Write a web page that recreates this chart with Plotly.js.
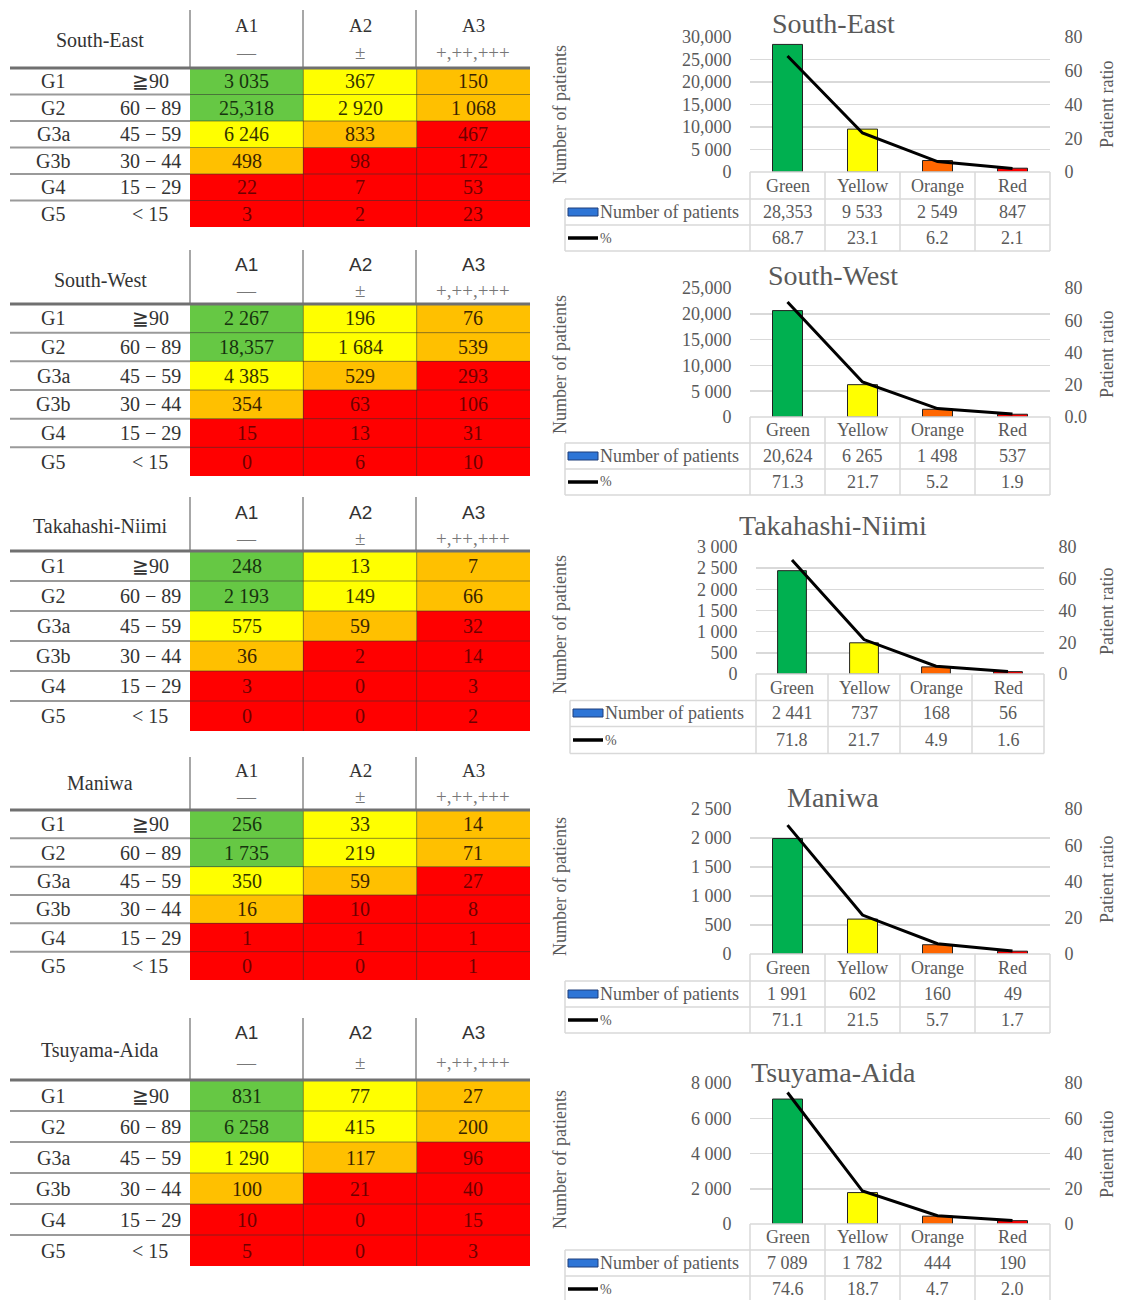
<!DOCTYPE html>
<html>
<head>
<meta charset="utf-8">
<script src="https://cdn.plot.ly/plotly-3.0.1.min.js"></script>
<style>html,body{margin:0;padding:0;background:#fff;}#chart{width:1121px;height:1300px;}</style>
</head>
<body>
<div id="chart"></div>
<script>
// ---------------- DATA ----------------
const regions = ['South-East', 'South-West', 'Takahashi-Niimi', 'Maniwa', 'Tsuyama-Aida'];
const gradeLabels = ['G1', 'G2', 'G3a', 'G3b', 'G4', 'G5'];
const gfrLabels = ['≧90', '60 − 89', '45 − 59', '30 − 44', '15 − 29', '< 15'];
const albLabels = ['A1', 'A2', 'A3'];
const albSymbols = ['—', '±', '+,++,+++'];
const riskCats = ['Green', 'Yellow', 'Orange', 'Red'];
// risk category of each cell: 0 green, 1 yellow, 2 orange, 3 red
const riskGrid = [[0,1,2],[0,1,2],[1,2,3],[2,3,3],[3,3,3],[3,3,3]];

const seCounts = [[3035,367,150],[25318,2920,1068],[6246,833,467],[498,98,172],[22,7,53],[3,2,23]];
const swCounts = [[2267,196,76],[18357,1684,539],[4385,529,293],[354,63,106],[15,13,31],[0,6,10]];
const tnCounts = [[248,13,7],[2193,149,66],[575,59,32],[36,2,14],[3,0,3],[0,0,2]];
const mnCounts = [[256,33,14],[1735,219,71],[350,59,27],[16,10,8],[1,1,1],[0,0,1]];
const taCounts = [[831,77,27],[6258,415,200],[1290,117,96],[100,21,40],[10,0,15],[5,0,3]];

const sePatients = [28353, 9533, 2549, 847];  const sePct = [68.7, 23.1, 6.2, 2.1];
const swPatients = [20624, 6265, 1498, 537];  const swPct = [71.3, 21.7, 5.2, 1.9];
const tnPatients = [2441, 737, 168, 56];      const tnPct = [71.8, 21.7, 4.9, 1.6];
const mnPatients = [1991, 602, 160, 49];      const mnPct = [71.1, 21.5, 5.7, 1.7];
const taPatients = [7089, 1782, 444, 190];    const taPct = [74.6, 18.7, 4.7, 2.0];

const pctTicks = [0, 20, 40, 60, 80];

// ---------------- STYLE / GEOMETRY ----------------
const W = 1121, H = 1300;
const SERIF = '"Liberation Serif", "Times New Roman", serif';
const SANS = '"Liberation Sans", Arial, sans-serif';
const GRAY = '#595959';
const cellFill = ['#66C844', '#FFFF00', '#FFC000', '#FF0000'];
const cellText = ['#17330f', '#333300', '#3a2400', '#6e0000'];
const barColors = ['#00B050', '#FFFF00', '#FF6600', '#FF0000'];
const TFS = 20;   // left table font size
const CFS = 18;   // chart text font size

const counts = [seCounts, swCounts, tnCounts, mnCounts, taCounts];
const patients = [sePatients, swPatients, tnPatients, mnPatients, taPatients];
const pcts = [sePct, swPct, tnPct, mnPct, taPct];

const tableGeo = [
  {top: 10,   hdr: 68,   bot: 227,  aY: 25,   symY: 52,   nameY: 40,   sans: false},
  {top: 250,  hdr: 304,  bot: 476,  aY: 265,  symY: 291,  nameY: 280,  sans: true},
  {top: 497,  hdr: 551,  bot: 731,  aY: 512,  symY: 538,  nameY: 526,  sans: true},
  {top: 757,  hdr: 810,  bot: 980,  aY: 770,  symY: 796,  nameY: 783,  sans: false},
  {top: 1018, hdr: 1080, bot: 1266, aY: 1032, symY: 1062, nameY: 1050, sans: true}
];
const chartGeo = [
  {titleY: 24,   top: 37,   bot: 172,  rows: [186, 212, 238],    xL: 750, xR: 1050, tl: 565, ymax: 30000, dtick: 5000, yt: 115,  rt: 105,  zeroLbl: '0'},
  {titleY: 275,  top: 288,  bot: 417,  rows: [430, 456, 482],    xL: 750, xR: 1050, tl: 565, ymax: 25000, dtick: 5000, yt: 365,  rt: 355,  zeroLbl: '0.0'},
  {titleY: 525,  top: 547,  bot: 674,  rows: [688, 713, 740],    xL: 756, xR: 1044, tl: 570, ymax: 3000,  dtick: 500,  yt: 625,  rt: 612,  zeroLbl: '0'},
  {titleY: 797,  top: 809,  bot: 954,  rows: [968, 994, 1020],   xL: 750, xR: 1050, tl: 565, ymax: 2500,  dtick: 500,  yt: 887,  rt: 880,  zeroLbl: '0'},
  {titleY: 1072, top: 1083, bot: 1224, rows: [1237, 1263, 1289], xL: 750, xR: 1050, tl: 565, ymax: 8000,  dtick: 2000, yt: 1160, rt: 1155, zeroLbl: '0'}
];
const colX = [190, 303, 416, 530];

const px = v => v / W;
const py = v => 1 - v / H;
function fmt(n) {
  if (n >= 10000) return n.toLocaleString('en-US');
  if (n >= 1000) return String(n).replace(/(\d)(\d{3})$/, '$1 $2');
  return String(n);
}
const sfx = n => (n === 1 ? '' : String(n));

const traces = [];
const annotations = [];
const shapes = [];
function ann(o) {
  annotations.push(Object.assign({showarrow: false, xanchor: 'center', yanchor: 'middle'}, o));
}
const layout = {
  width: W, height: H, autosize: false,
  margin: {l: 0, r: 0, t: 0, b: 0},
  paper_bgcolor: '#ffffff', plot_bgcolor: 'rgba(0,0,0,0)',
  showlegend: false,
  font: {family: SERIF, color: GRAY}
};

for (let i = 0; i < 5; i++) {
  const tg = tableGeo[i], cg = chartGeo[i];
  const hx = 2 * i + 1, cx = 2 * i + 2;
  const hy = 3 * i + 1, cy = 3 * i + 2, cy2 = 3 * i + 3;
  const hxr = 'x' + sfx(hx), hyr = 'y' + sfx(hy);
  const cxr = 'x' + sfx(cx), cyr = 'y' + sfx(cy), cy2r = 'y' + sfx(cy2);

  // ---------- left table (heatmap) ----------
  traces.push({
    type: 'heatmap', xaxis: hxr, yaxis: hyr,
    x: [0, 1, 2], y: [0, 1, 2, 3, 4, 5], z: riskGrid,
    zmin: 0, zmax: 3, showscale: false, hoverinfo: 'skip',
    colorscale: [[0, cellFill[0]], [1/3, cellFill[1]], [2/3, cellFill[2]], [1, cellFill[3]]]
  });
  layout['xaxis' + sfx(hx)] = {domain: [px(colX[0]), px(colX[3])], range: [-0.5, 2.5], anchor: hyr,
    showgrid: false, zeroline: false, showticklabels: false, ticks: '', fixedrange: true};
  layout['yaxis' + sfx(hy)] = {domain: [py(tg.bot), py(tg.hdr)], range: [5.5, -0.5], anchor: hxr,
    showgrid: false, zeroline: false, showticklabels: false, ticks: '', fixedrange: true};

  for (let r = 0; r < 6; r++) {
    for (let c = 0; c < 3; c++) {
      ann({xref: hxr, yref: hyr, x: c, y: r, text: fmt(counts[i][r][c]),
        font: {family: SERIF, size: TFS, color: cellText[riskGrid[r][c]]}});
    }
    ann({xref: 'paper', yref: hyr, x: px(53), y: r, text: gradeLabels[r],
      font: {family: SERIF, size: TFS, color: '#333'}});
    ann({xref: 'paper', yref: hyr, x: px(150), y: r, text: gfrLabels[r],
      font: {family: SERIF, size: TFS, color: '#333'}});
  }
  const hdrFont = tg.sans ? SANS : SERIF;
  for (let c = 0; c < 3; c++) {
    ann({xref: hxr, yref: 'paper', x: c, y: py(tg.aY), text: albLabels[c],
      font: {family: hdrFont, size: 19, color: '#333'}});
    ann({xref: hxr, yref: 'paper', x: c, y: py(tg.symY), text: albSymbols[c],
      font: {family: SERIF, size: c === 2 ? 19 : 19, color: '#777'}});
  }
  ann({xref: 'paper', yref: 'paper', x: px(100), y: py(tg.nameY), text: regions[i],
    font: {family: SERIF, size: TFS, color: '#333'}});

  for (let r = 0; r < 5; r++) {
    shapes.push({type: 'line', xref: hxr, yref: hyr, x0: -0.5, x1: 2.5, y0: r + 0.5, y1: r + 0.5,
      line: {color: 'rgba(50,50,50,0.55)', width: 1}});
    shapes.push({type: 'line', xref: 'paper', yref: hyr, x0: px(10), x1: px(190), y0: r + 0.5, y1: r + 0.5,
      line: {color: '#9a9a9a', width: 2}});
  }
  for (let c = 0; c < 2; c++) {
    shapes.push({type: 'line', xref: hxr, yref: hyr, x0: c + 0.5, x1: c + 0.5, y0: -0.5, y1: 5.5,
      line: {color: 'rgba(50,50,50,0.55)', width: 1}});
  }
  for (let c = 0; c < 3; c++) {
    shapes.push({type: 'line', xref: 'paper', yref: 'paper', x0: px(colX[c]), x1: px(colX[c]), y0: py(tg.top), y1: py(tg.hdr),
      line: {color: '#8a8a8a', width: 1.5}});
  }
  shapes.push({type: 'line', xref: 'paper', yref: 'paper', x0: px(10), x1: px(530), y0: py(tg.hdr), y1: py(tg.hdr),
    line: {color: '#707070', width: 3}});

  // ---------- right chart ----------
  traces.push({
    type: 'bar', xaxis: cxr, yaxis: cyr, x: riskCats, y: patients[i], width: 0.4,
    marker: {color: barColors, line: {color: '#222', width: 1}}, hoverinfo: 'skip'
  });
  traces.push({
    type: 'scatter', mode: 'lines', xaxis: cxr, yaxis: cy2r, x: riskCats, y: pcts[i],
    line: {color: '#000', width: 3}, hoverinfo: 'skip'
  });
  const tv = [];
  for (let v = 0; v <= cg.ymax; v += cg.dtick) tv.push(v);
  layout['xaxis' + sfx(cx)] = {domain: [px(cg.xL), px(cg.xR)], anchor: cyr, type: 'category',
    categoryarray: riskCats, range: [-0.5, 3.5], showgrid: false, zeroline: false,
    showticklabels: false, ticks: '', showline: false, fixedrange: true};
  layout['yaxis' + sfx(cy)] = {domain: [py(cg.bot), py(cg.top)], anchor: cxr, range: [0, cg.ymax],
    tickvals: tv, ticktext: tv.map(fmt), showgrid: true, gridcolor: '#D9D9D9', gridwidth: 1.5,
    zeroline: false, showline: false, ticks: 'outside', ticklen: 14, tickcolor: 'rgba(0,0,0,0)',
    tickfont: {family: SERIF, size: CFS, color: GRAY}, fixedrange: true};
  layout['yaxis' + sfx(cy2)] = {domain: [py(cg.bot), py(cg.top)], anchor: cxr, overlaying: cyr, side: 'right',
    range: [0, 80], tickvals: pctTicks, ticktext: pctTicks.map(v => v === 0 ? cg.zeroLbl : String(v)),
    showgrid: false, zeroline: false, showline: false, ticks: 'outside', ticklen: 10, tickcolor: 'rgba(0,0,0,0)',
    tickfont: {family: SERIF, size: CFS, color: GRAY}, fixedrange: true};

  ann({xref: 'paper', yref: 'paper', x: px(833), y: py(cg.titleY), text: regions[i],
    font: {family: SERIF, size: 28, color: GRAY}});
  ann({xref: 'paper', yref: 'paper', x: px(560), y: py(cg.yt), text: 'Number of patients', textangle: -90,
    font: {family: SERIF, size: CFS, color: GRAY}});
  ann({xref: 'paper', yref: 'paper', x: px(1107), y: py(cg.rt), text: 'Patient ratio', textangle: -90,
    font: {family: SERIF, size: CFS, color: GRAY}});

  const r = cg.rows;
  const b = [cg.bot, (r[0] + r[1]) / 2, (r[1] + r[2]) / 2, r[2] + (r[2] - r[1]) / 2];
  const tlc = '#D9D9D9';
  shapes.push({type: 'line', xref: 'paper', yref: 'paper', x0: px(cg.xL), x1: px(cg.xR), y0: py(b[0]), y1: py(b[0]), line: {color: tlc, width: 1.5}});
  for (let k = 1; k < 4; k++) {
    shapes.push({type: 'line', xref: 'paper', yref: 'paper', x0: px(cg.tl), x1: px(cg.xR), y0: py(b[k]), y1: py(b[k]), line: {color: tlc, width: 1.5}});
  }
  const cw = (cg.xR - cg.xL) / 4;
  for (let j = 0; j <= 4; j++) {
    const xx = cg.xL + j * cw;
    shapes.push({type: 'line', xref: 'paper', yref: 'paper', x0: px(xx), x1: px(xx), y0: py(b[0]), y1: py(b[3]), line: {color: tlc, width: 1.5}});
  }
  shapes.push({type: 'line', xref: 'paper', yref: 'paper', x0: px(cg.tl), x1: px(cg.tl), y0: py(b[1]), y1: py(b[3]), line: {color: tlc, width: 1.5}});

  for (let j = 0; j < 4; j++) {
    ann({xref: cxr, yref: 'paper', x: riskCats[j], y: py(r[0]), text: riskCats[j],
      font: {family: SERIF, size: CFS, color: GRAY}});
    ann({xref: cxr, yref: 'paper', x: riskCats[j], y: py(r[1]), text: fmt(patients[i][j]),
      font: {family: SERIF, size: CFS, color: GRAY}});
    ann({xref: cxr, yref: 'paper', x: riskCats[j], y: py(r[2]), text: pcts[i][j].toFixed(1),
      font: {family: SERIF, size: CFS, color: GRAY}});
  }
  shapes.push({type: 'rect', xref: 'paper', yref: 'paper', x0: px(cg.tl + 3), x1: px(cg.tl + 33), y0: py(r[1] + 4), y1: py(r[1] - 4),
    fillcolor: '#2E75D6', line: {color: '#1F3E7A', width: 1}});
  ann({xref: 'paper', yref: 'paper', x: px(cg.tl + 33), y: py(r[1]), xanchor: 'left', text: 'Number of patients',
    font: {family: SERIF, size: CFS, color: GRAY}});
  shapes.push({type: 'line', xref: 'paper', yref: 'paper', x0: px(cg.tl + 3), x1: px(cg.tl + 33), y0: py(r[2]), y1: py(r[2]),
    line: {color: '#000', width: 3.5}});
  ann({xref: 'paper', yref: 'paper', x: px(cg.tl + 33), y: py(r[2]), xanchor: 'left', text: '%',
    font: {family: SERIF, size: 14, color: GRAY}});
}

layout.annotations = annotations;
layout.shapes = shapes;
Plotly.newPlot('chart', traces, layout, {staticPlot: true, displayModeBar: false});
</script>
</body>
</html>
